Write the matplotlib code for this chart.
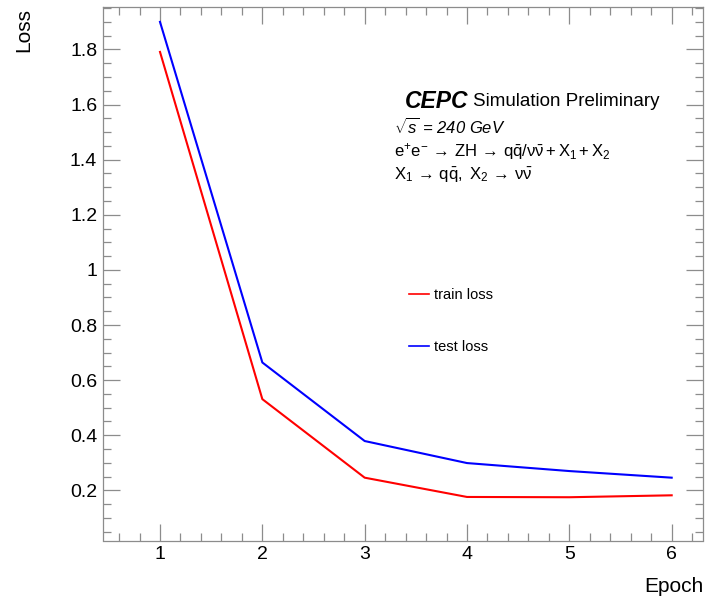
import matplotlib
matplotlib.use("Agg")
import matplotlib.pyplot as plt
from matplotlib.ticker import MultipleLocator, FuncFormatter

plt.rcParams["font.family"] = ["Liberation Sans", "DejaVu Sans"]
plt.rcParams["mathtext.fontset"] = "custom"
plt.rcParams["mathtext.rm"] = "Liberation Sans"
plt.rcParams["mathtext.it"] = "Liberation Sans:italic"
plt.rcParams["mathtext.bf"] = "Liberation Sans:bold"

# data
epochs = [1, 2, 3, 4, 5, 6]
train_loss = [1.791, 0.531, 0.246, 0.176, 0.175, 0.182]
test_loss = [1.900, 0.664, 0.379, 0.299, 0.270, 0.246]

W, H = 705, 599
fig = plt.figure(figsize=(W / 100, H / 100), dpi=100)
ax = fig.add_axes([102.7 / W, 1 - 540.5 / H, (703 - 102.7) / W, (540.5 - 7.3) / H])

ax.plot(epochs, train_loss, color="#ff0000", lw=1.5, label="train loss")
ax.plot(epochs, test_loss, color="#0000ff", lw=1.5, label="test loss")

ax.set_xlim(0.44, 6.306)
ax.set_ylim(0.018, 1.953)

frame = "#8c8c8c"
for sp in ax.spines.values():
    sp.set_color(frame)
    sp.set_linewidth(0.9)

ax.xaxis.set_major_locator(MultipleLocator(1))
ax.xaxis.set_minor_locator(MultipleLocator(0.2))
ax.yaxis.set_major_locator(MultipleLocator(0.2))
ax.yaxis.set_minor_locator(MultipleLocator(0.05))
ax.yaxis.set_major_formatter(FuncFormatter(lambda v, p: f"{v:g}"))
ax.tick_params(which="both", direction="in", top=True, right=True,
               color=frame, width=0.9, labelsize=14, labelcolor="black")
ax.tick_params(which="major", length=12, pad=4)
ax.tick_params(which="minor", length=6)

# axis titles, ROOT style (at the ends)
fig.text(24 / W, 1 - 30 / H, "Loss", rotation=90, ha="center", va="center", fontsize=15)
fig.text(704 / W, 1 - 587 / H, "Epoch", ha="right", va="center", fontsize=15)

# CEPC label block
fig.text(405 / W, 1 - 101 / H, "CEPC", fontsize=16.5, fontweight="bold", style="italic",
         ha="left", va="center")
fig.text(473 / W, 1 - 101 / H, "Simulation Preliminary", fontsize=13.5, ha="left", va="center")
fig.text(394 / W, 1 - 127 / H, r"$\sqrt{s}$ = 240 GeV", fontsize=12, style="italic",
         ha="left", va="center")
fig.text(394 / W, 1 - 151 / H,
         r"$\mathrm{e^{+}e^{-}\,\rightarrow\,ZH\,\rightarrow\,q\bar{q}/\nu\bar{\nu} + X_{1} + X_{2}}$",
         fontsize=12, ha="left", va="center")
fig.text(394 / W, 1 - 175 / H,
         r"$\mathrm{X_{1}\,\rightarrow\,q\bar{q},\ X_{2}\,\rightarrow\,\nu\bar{\nu}}$",
         fontsize=12, ha="left", va="center")

leg = ax.legend(loc="center left", bbox_to_anchor=(409 / W, 1 - 321 / H),
                bbox_transform=fig.transFigure, frameon=False, fontsize=10.5,
                handlelength=1.4, handletextpad=0.3, labelspacing=2.6,
                borderpad=0, borderaxespad=0)
for line in leg.get_lines():
    line.set_linewidth(1.2)

fig.savefig("out.png", dpi=100)
